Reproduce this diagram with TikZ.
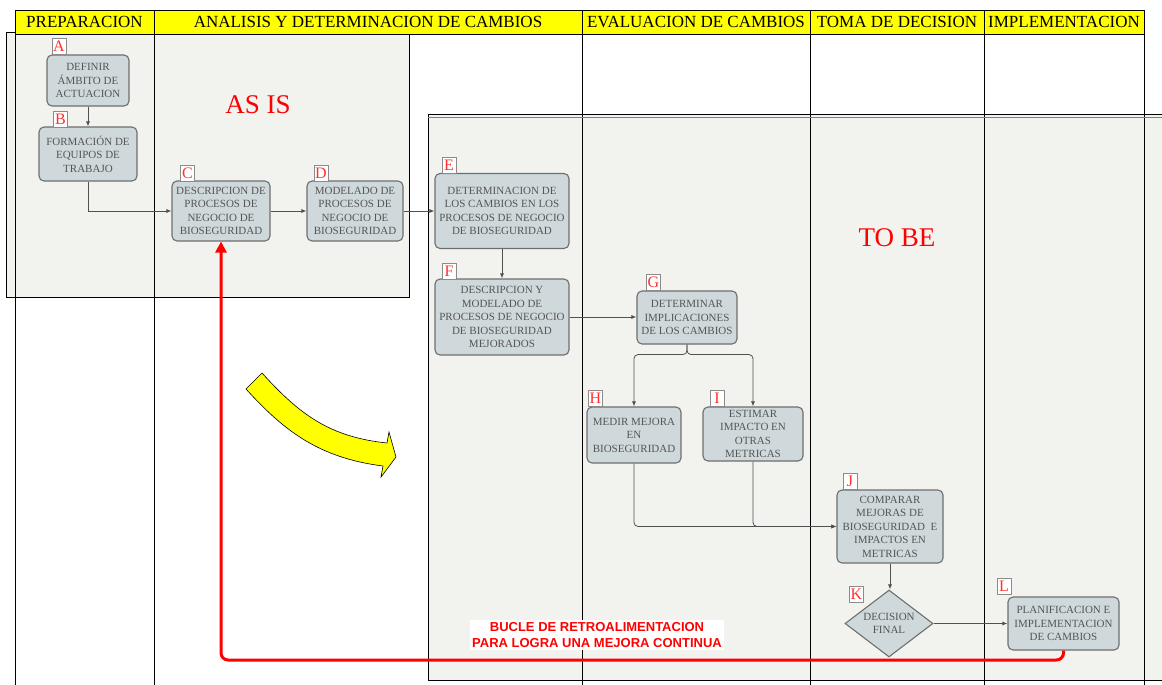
\documentclass[tikz,border=0pt]{standalone}
\usepackage{fontspec}
\setmainfont{Liberation Serif}
\newfontfamily\arialfont{Liberation Sans}
\usetikzlibrary{arrows.meta,shapes.geometric,calc}
\definecolor{lanebg}{HTML}{F2F2EE}
\definecolor{nodefill}{HTML}{CFD9DC}
\definecolor{nodeline}{HTML}{6E6E6E}
\definecolor{nodetext}{HTML}{555555}
\definecolor{hdryellow}{HTML}{FFFF00}
\definecolor{lblred}{HTML}{FF3030}
\definecolor{fbred}{HTML}{FF0000}
\definecolor{conn}{HTML}{505050}
\begin{document}
\begin{tikzpicture}[x=1pt,y=-1pt,
  hdr/.style={draw=black, line width=0.8pt, fill=hdryellow, minimum height=24pt, inner sep=0pt,
    font=\fontsize{17}{18}\selectfont},
  laneline/.style={draw=black, line width=0.9pt},
  boxline/.style={draw=black, line width=0.9pt},
  proc/.style={draw=nodeline, line width=1.1pt, fill=nodefill, rounded corners=5pt, align=center,
    text=nodetext, inner sep=1pt, font=\fontsize{11}{13.5}\selectfont},
  decision/.style={diamond, draw=nodeline, line width=1.1pt, fill=nodefill, align=center,
    text=nodetext, inner sep=0pt, aspect=1.3, font=\fontsize{11}{13.5}\selectfont},
  lbl/.style={draw=nodeline!80, line width=0.7pt, fill=white, text=lblred, inner sep=0pt,
    minimum width=14pt, minimum height=16pt, font=\fontsize{16}{16}\selectfont},
  arr/.style={draw=conn, line width=0.8pt, -{Latex[length=5pt,width=4pt]}},
  fbline/.style={draw=fbred, line width=3pt, rounded corners=7pt, -{Triangle[length=11pt,width=11pt]}},
  bigred/.style={text=fbred, font=\fontsize{27}{30}\selectfont, inner sep=0pt},
  fbtext/.style={fill=white, text=fbred, align=center, inner sep=2pt,
    font=\arialfont\bfseries\fontsize{13}{16}\selectfont}
]
\useasboundingbox (0,0) rectangle (1162,685);

% lane backgrounds (AS IS / TO BE regions)
\fill[lanebg] (6,32) rectangle (409,297);
\fill[lanebg] (428,114) rectangle (1170,680);

% swimlane lines
\draw[laneline] (15,34) -- (15,685);
\draw[laneline] (154,34) -- (154,685);
\draw[laneline] (582,34) -- (582,685);
\draw[laneline] (810,34) -- (810,685);
\draw[laneline] (984,34) -- (984,685);
\draw[laneline] (1144,34) -- (1144,685);

% region borders
\draw[boxline] (6,32) rectangle (409,297);
\draw[boxline] (428,114) rectangle (1170,680);
\draw[draw=gray, line width=0.8pt] (428,117) -- (1162,117);

% headers
\node[hdr, minimum width=139pt] (h1) at (84.5,22) {PREPARACION};
\node[hdr, minimum width=428pt] (h2) at (368,22) {ANALISIS Y DETERMINACION DE CAMBIOS};
\node[hdr, minimum width=228pt] (h3) at (696,22) {EVALUACION DE CAMBIOS};
\node[hdr, minimum width=174pt] (h4) at (897,22) {TOMA DE DECISION};
\node[hdr, minimum width=160pt] (h5) at (1064,22) {IMPLEMENTACION};

% region titles
\node[bigred] (asis) at (258,105) {AS IS};
\node[bigred] (tobe) at (897,238) {TO BE};

% yellow transition arrow
\filldraw[fill=hdryellow, draw=black, line width=0.6pt]
  (246,389) -- (262,373) .. controls (300,415) and (330,437) .. (387,443)
  -- (389,432) -- (396,457) -- (381,477) -- (383,466)
  .. controls (320,458) and (285,432) .. cycle;

% process nodes
\node[proc, minimum width=82pt, minimum height=51pt] (A) at (88,80.5) {DEFINIR\\ÁMBITO DE\\ACTUACION};
\node[proc, minimum width=98pt, minimum height=54pt] (B) at (88,154) {FORMACIÓN DE\\EQUIPOS DE\\TRABAJO};
\node[proc, minimum width=98pt, minimum height=60pt] (C) at (221,211) {DESCRIPCION DE\\PROCESOS DE\\NEGOCIO DE\\BIOSEGURIDAD};
\node[proc, minimum width=96pt, minimum height=60pt] (D) at (355,211) {MODELADO DE\\PROCESOS DE\\NEGOCIO DE\\BIOSEGURIDAD};
\node[proc, minimum width=134pt, minimum height=75pt] (E) at (502,211) {DETERMINACION DE\\LOS CAMBIOS EN LOS\\PROCESOS DE NEGOCIO\\DE BIOSEGURIDAD};
\node[proc, minimum width=134pt, minimum height=76pt] (F) at (502,317) {DESCRIPCION Y\\MODELADO DE\\PROCESOS DE NEGOCIO\\DE BIOSEGURIDAD\\MEJORADOS};
\node[proc, minimum width=100pt, minimum height=53pt] (G) at (687,317.5) {DETERMINAR\\IMPLICACIONES\\DE LOS CAMBIOS};
\node[proc, minimum width=94pt, minimum height=56pt] (H) at (634,435) {MEDIR MEJORA\\EN\\BIOSEGURIDAD};
\node[proc, minimum width=100pt, minimum height=54pt] (I) at (753,434) {ESTIMAR\\IMPACTO EN\\OTRAS\\METRICAS};
\node[proc, minimum width=106pt, minimum height=73pt] (J) at (890,526.5) {COMPARAR\\MEJORAS DE\\BIOSEGURIDAD\ \ E\\IMPACTOS EN\\METRICAS};
\node[decision, minimum width=88pt, minimum height=67pt] (K) at (889,623.5) {DECISION\\FINAL};
\node[proc, minimum width=111pt, minimum height=53pt] (L) at (1063.5,623.5) {PLANIFICACION E\\IMPLEMENTACION\\DE CAMBIOS};

% letter tags
\node[lbl] (lA) at (59,46) {A};
\node[lbl] (lB) at (60.5,119) {B};
\node[lbl] (lC) at (187.5,173) {C};
\node[lbl] (lD) at (321,173) {D};
\node[lbl] (lE) at (449,165) {E};
\node[lbl] (lF) at (449,271) {F};
\node[lbl] (lG) at (653.5,282.5) {G};
\node[lbl] (lH) at (595.5,398) {H};
\node[lbl] (lI) at (717,398) {I};
\node[lbl] (lJ) at (850,481) {J};
\node[lbl] (lK) at (856.5,594.5) {K};
\node[lbl] (lL) at (1004,586) {L};

% connectors
\draw[arr] (A) -- (B);
\draw[arr] (B.south) |- (C.west);
\draw[arr] (C) -- (D);
\draw[arr] (D.east) -- (D.east -| E.west);
\draw[arr] (E) -- (F);
\draw[arr] (F.east) -- (F.east -| G.west);
\coordinate (gfork) at ($(G.south)+(0,10)$);
\draw[arr, rounded corners=4pt] (G.south) -- (gfork) -| (H.north);
\draw[arr, rounded corners=4pt] (G.south) -- (gfork) -| (I.north);
\draw[arr, rounded corners=4pt] (H.south) |- (J.west);
\draw[arr, rounded corners=4pt] (I.south) |- (J.west);
\draw[arr] (J.south) -- (J.south |- K.north);
\draw[arr] (K.east) -- (L.west);

% feedback loop
\coordinate (fb) at (221,660);
\draw[fbline] (L.south) |- (fb) -- (C.south);
\node[fbtext] (fbl) at (597,635) {BUCLE DE RETROALIMENTACION\\PARA LOGRA UNA MEJORA CONTINUA};

\end{tikzpicture}
\end{document}
